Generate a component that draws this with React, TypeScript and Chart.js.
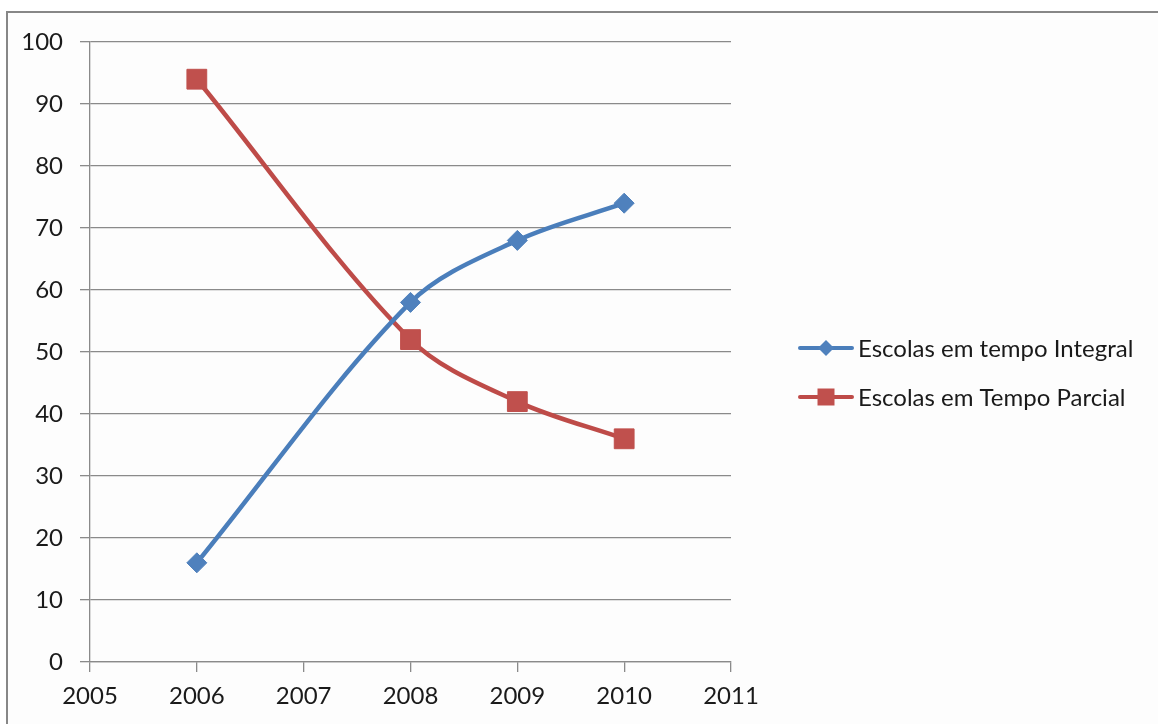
import React, { useEffect, useRef } from "react";
import { Chart, registerables } from "chart.js";

Chart.register(...registerables);

// School counts per year
const years = [2006, 2008, 2009, 2010];
const integral = [16, 58, 68, 74];
const parcial = [94, 52, 42, 36];

const seriesLabels = ["Escolas em tempo Integral", "Escolas em Tempo Parcial"];
const lineColors = ["#4A7EBB", "#BE4B48"];
const markerColors = ["#4F81BD", "#C0504D"];

const X_MIN = 2005;
const X_MAX = 2011;
const Y_MIN = 0;
const Y_MAX = 100;
const Y_STEP = 10;

const FONT = "Lato, 'Open Sans', sans-serif";
const AXIS_GRAY = "#8a8a8a";

// Outer frame and the side legend, painted on the canvas
const framePlugin = {
  id: "frameAndLegend",
  beforeDraw(chart: any) {
    const { ctx } = chart;
    ctx.save();
    ctx.fillStyle = "#ffffff";
    ctx.fillRect(0, 0, chart.width, chart.height);
    ctx.fillStyle = "#fdfdfd";
    ctx.fillRect(8, 13, chart.width - 8, chart.height - 13);
    ctx.strokeStyle = "#878787";
    ctx.lineWidth = 2;
    ctx.beginPath();
    ctx.moveTo(7, chart.height);
    ctx.lineTo(7, 12);
    ctx.lineTo(chart.width, 12);
    ctx.stroke();
    ctx.restore();
  },
  afterDraw(chart: any) {
    const { ctx } = chart;
    const rows = [348, 397];
    ctx.save();
    chart.data.datasets.forEach((ds: any, i: number) => {
      const y = rows[i];
      ctx.strokeStyle = ds.borderColor;
      ctx.lineWidth = 4;
      ctx.lineCap = "round";
      ctx.beginPath();
      ctx.moveTo(800, y);
      ctx.lineTo(852, y);
      ctx.stroke();
      ctx.fillStyle = ds.pointBackgroundColor;
      ctx.beginPath();
      if (ds.pointStyle === "rectRot") {
        const r = 8;
        ctx.moveTo(826, y - r);
        ctx.lineTo(826 + r, y);
        ctx.lineTo(826, y + r);
        ctx.lineTo(826 - r, y);
        ctx.closePath();
      } else {
        ctx.rect(826 - 8.5, y - 8.5, 17, 17);
      }
      ctx.fill();
      ctx.fillStyle = "#1a1a1a";
      ctx.font = `24px ${FONT}`;
      ctx.textBaseline = "middle";
      ctx.textAlign = "left";
      ctx.fillText(ds.label, 858, y + 1);
    });
    ctx.restore();
  },
};

export default function App() {
  const canvasRef = useRef<HTMLCanvasElement | null>(null);

  useEffect(() => {
    let chart: Chart | null = null;
    let cancelled = false;

    const build = () => {
      if (cancelled || !canvasRef.current) return;
      const makeData = (vals: number[]) => years.map((x, i) => ({ x, y: vals[i] }));
      chart = new Chart(canvasRef.current, {
        type: "line",
        data: {
          datasets: [
            {
              label: seriesLabels[0],
              data: makeData(integral),
              borderColor: lineColors[0],
              backgroundColor: markerColors[0],
              pointBackgroundColor: markerColors[0],
              pointBorderColor: markerColors[0],
              pointBorderWidth: 1,
              pointStyle: "rectRot",
              pointRadius: 10,
              borderWidth: 4.5,
              tension: 0.33,
            },
            {
              label: seriesLabels[1],
              data: makeData(parcial),
              borderColor: lineColors[1],
              backgroundColor: markerColors[1],
              pointBackgroundColor: markerColors[1],
              pointBorderColor: markerColors[1],
              pointBorderWidth: 1,
              pointStyle: "rect",
              pointRadius: 14,
              borderWidth: 4.5,
              tension: 0.33,
            },
          ],
        } as any,
        options: {
          responsive: false,
          animation: false,
          devicePixelRatio: 1,
          layout: { padding: { left: 0, top: 42, right: 427, bottom: 0 } },
          plugins: {
            legend: { display: false },
            tooltip: { enabled: false },
            title: { display: false },
          },
          scales: {
            x: {
              type: "linear",
              min: X_MIN,
              max: X_MAX,
              ticks: {
                stepSize: 1,
                color: "#1a1a1a",
                font: { family: FONT, size: 24 },
                padding: 10,
                maxRotation: 0,
                callback: (v: any) => String(v),
              },
              grid: {
                drawOnChartArea: false,
                drawTicks: true,
                tickLength: 10,
                color: AXIS_GRAY,
                lineWidth: 1.3,
              },
              border: { display: true, color: AXIS_GRAY, width: 1.3 },
              afterFit: (scale: any) => {
                scale.height = 62;
              },
            },
            y: {
              min: Y_MIN,
              max: Y_MAX,
              ticks: {
                stepSize: Y_STEP,
                color: "#1a1a1a",
                font: { family: FONT, size: 24 },
                padding: 17,
              },
              grid: {
                drawTicks: true,
                tickLength: 10,
                color: AXIS_GRAY,
                lineWidth: 1.3,
              },
              border: { display: true, color: AXIS_GRAY, width: 1.3 },
              afterFit: (scale: any) => {
                scale.width = 90;
              },
            },
          },
        } as any,
        plugins: [framePlugin],
      });
    };

    const fontsReady = (document as any).fonts?.load
      ? Promise.all([(document as any).fonts.load(`24px Lato`)]).catch(() => null)
      : Promise.resolve(null);
    fontsReady.then(build);

    return () => {
      cancelled = true;
      if (chart) chart.destroy();
    };
  }, []);

  return (
    <div style={{ position: "fixed", left: 0, top: 0, width: 1158, height: 724 }}>
      <canvas ref={canvasRef} width={1158} height={724} style={{ display: "block" }} />
    </div>
  );
}
